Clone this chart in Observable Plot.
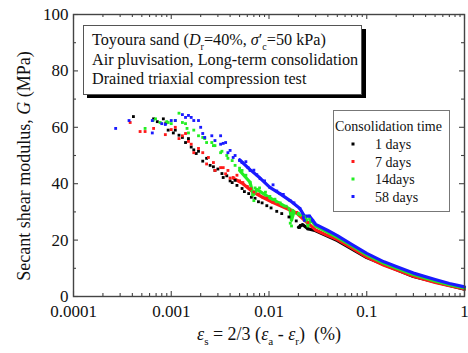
<!DOCTYPE html>
<html>
<head>
<meta charset="utf-8">
<script src="https://cdn.jsdelivr.net/npm/d3@7"></script>
<script src="https://cdn.jsdelivr.net/npm/@observablehq/plot@0.6"></script>
<style>
  html, body { margin: 0; padding: 0; background: #fff; }
  svg text { white-space: pre; }
</style>
</head>
<body>
<div id="chart"></div>
<script>
// ---------- data ----------
const seriesNames = ["1 days", "7 days", "14days", "58 days"];
const seriesColors = ["#000000", "#ff1a1a", "#22ee22", "#1a1aff"];

// scattered measurements [strain %, G MPa]
const day1Pts = [[0.00041,63.8],[0.00066,63],[0.00072,62],[0.00083,63],[0.00088,61.5],[0.00093,59],[0.00105,58],[0.0011,59],[0.0012,57.2],[0.0013,56.4],[0.0014,54.6],[0.0015,56],[0.0016,53],[0.0017,52],[0.0018,50.7],[0.0019,51.5],[0.0021,48],[0.0023,49],[0.0025,46.5],[0.0027,46],[0.0028,44.7],[0.003,45.2],[0.0033,43.6],[0.0034,42.2],[0.0037,42.8],[0.004,41],[0.0042,40.4],[0.0045,41.2],[0.0047,39.4],[0.0053,38.3],[0.0056,37.2],[0.0062,36.5],[0.0066,35.2],[0.0072,34.8],[0.0078,33.6],[0.0085,33.2],[0.0095,32.2],[0.0105,31.4],[0.012,30.2],[0.0135,29.4],[0.016,28.2],[0.019,26.8],[0.0205,24.5],[0.021,25.2],[0.025,24]];
const day7Pts = [[0.00038,61.7],[0.00048,58.5],[0.00054,58.5],[0.00066,59.6],[0.00087,57.4],[0.001,59.2],[0.0011,60],[0.0012,56],[0.0013,57],[0.0014,57.8],[0.0015,55],[0.0016,54],[0.0017,51],[0.0019,52.5],[0.0021,51],[0.0023,47],[0.0024,49.3],[0.0027,47.5],[0.0028,44.7],[0.0032,45.7],[0.0034,45.7],[0.0036,43.5],[0.0038,44.7],[0.004,42],[0.0043,42.2],[0.0047,43],[0.005,41],[0.0054,40.4],[0.006,39],[0.0065,38.2],[0.007,37],[0.0078,36.3],[0.0087,35.1],[0.0095,34.8],[0.011,33.3],[0.0125,32.6],[0.015,31.6],[0.017,30.6],[0.0193,29.8],[0.022,28],[0.025,26.2]];
const day14Pts = [[0.00054,59.6],[0.00065,62.4],[0.00069,63],[0.00077,61.7],[0.0009,62],[0.00093,61.7],[0.001,61.3],[0.0011,62.4],[0.0012,65],[0.0013,61.7],[0.0014,61.3],[0.00145,59.6],[0.0015,58],[0.0017,59],[0.0019,57],[0.0021,56.4],[0.0022,56],[0.0023,54.6],[0.0026,54.6],[0.0027,53.5],[0.0028,53.5],[0.0032,51],[0.0033,51.5],[0.0037,50],[0.0038,49],[0.0042,48.2],[0.0045,46.5],[0.005,45.5],[0.0053,44.7],[0.0058,43],[0.0064,40.5],[0.0068,36],[0.007,34],[0.0072,38.5],[0.008,38.5],[0.0092,37],[0.0102,35.5],[0.0115,34.5],[0.013,33.2],[0.015,32],[0.0165,26],[0.017,25],[0.0175,30.5],[0.02,29.5],[0.023,28.2],[0.025,25],[0.026,27.5]];
const day58Pts = [[0.00027,59.6],[0.00037,62.4],[0.00064,62.4],[0.00064,58],[0.0008,61.3],[0.00087,61],[0.001,62.4],[0.0011,62.4],[0.0013,64.5],[0.0014,63.5],[0.0015,64.2],[0.0016,63.5],[0.0017,62.4],[0.0019,62.4],[0.002,60],[0.0021,57.8],[0.0022,56.4],[0.0026,57],[0.0028,55.3],[0.0032,57],[0.0032,54],[0.0034,54.3],[0.0036,54.6],[0.0038,51],[0.004,51.8],[0.0043,49.3],[0.0045,50],[0.005,48.2],[0.0053,47.5],[0.0058,47.8],[0.0061,45.7],[0.0064,44.7],[0.007,44.8],[0.0075,43.2],[0.0081,41.8],[0.009,41],[0.0102,38.7],[0.011,39.6],[0.012,37.4],[0.0129,36.5],[0.014,36.2],[0.0164,34],[0.018,33.2],[0.0207,31.2],[0.0225,28],[0.023,27],[0.026,28.5],[0.028,27]];

// dense continuous part of each record [strain %, G MPa]
const day1Band = [[0.02,24.5],[0.022,25.5],[0.025,24],[0.03,23.3],[0.05,19.8],[0.1,13.8],[0.3,7.1],[1,2.6]];
const day7Band = [[0.0043,42],[0.0054,40],[0.0069,37],[0.0087,35.1],[0.011,33.3],[0.015,31.3],[0.0193,29.5],[0.024,26.5],[0.028,24.5],[0.03,23.6],[0.04,21.6],[0.05,20.2],[0.07,17.2],[0.1,14],[0.15,11.1],[0.2,9.5],[0.3,7.2],[0.5,5],[0.7,3.8],[1,2.7]];
const day14Band = [[0.005,44.7],[0.0064,40.5],[0.0069,36],[0.0075,38],[0.0102,35],[0.0129,33],[0.0164,31],[0.017,27],[0.018,30],[0.0207,29],[0.024,27.5],[0.025,25.5],[0.027,27],[0.03,25],[0.04,22.8],[0.05,21],[0.07,18],[0.1,14.8],[0.15,11.8],[0.2,10.1],[0.3,7.8],[0.5,5.5],[0.7,4.2],[1,3]];
const day58Band = [[0.005,48.5],[0.0064,45],[0.0081,42],[0.0102,38.7],[0.0129,36.5],[0.0164,34],[0.0207,31.2],[0.023,28.5],[0.026,28.5],[0.03,25.6],[0.04,23.4],[0.05,21.6],[0.07,18.5],[0.1,15.3],[0.15,12.3],[0.2,10.6],[0.3,8.3],[0.5,6],[0.7,4.6],[1,3.4]];

// axis ticks
const xMajor = [0.0001, 0.001, 0.01, 0.1, 1];
const xTickLabels = ["0.0001", "0.001", "0.01", "0.1", "1"];
const xMinor = [2e-4,3e-4,4e-4,5e-4,6e-4,7e-4,8e-4,9e-4, 2e-3,3e-3,4e-3,5e-3,6e-3,7e-3,8e-3,9e-3, 2e-2,3e-2,4e-2,5e-2,6e-2,7e-2,8e-2,9e-2, 0.2,0.3,0.4,0.5,0.6,0.7,0.8,0.9];
const yMajor = [0, 20, 40, 60, 80, 100];
const yMinor = [10, 30, 50, 70, 90];

// ---------- layout ----------
const W = 468, H = 353;
const mL = 73, mR = 4, mT = 14, mB = 57;
const frameW = W - mL - mR, frameH = H - mT - mB;
const majLen = 5, minLen = 3;
const axisColor = "#444";
const serif = "'Liberation Serif', 'Times New Roman', serif";

const pts = [day1Pts, day7Pts, day14Pts, day58Pts];
const bands = [day1Band, day7Band, day14Band, day58Band];

const bandMarks = bands.map((b, i) => Plot.line(b, {x: d => d[0], y: d => d[1], stroke: seriesColors[i], strokeWidth: 3.2, strokeLinejoin: "round"}));
const dotMarks = pts.map((p, i) => Plot.dot(p, {x: d => d[0], y: d => d[1], symbol: "square", r: 1.6, fill: seriesColors[i], stroke: "none"}));

const chart = Plot.plot({
  width: W, height: H,
  marginLeft: mL, marginRight: mR, marginTop: mT, marginBottom: mB,
  x: {type: "log", domain: [1e-4, 1]},
  y: {domain: [0, 100]},
  style: {fontFamily: serif, fontSize: "17px", background: "#fff", color: "#111"},
  marks: [
    ...bandMarks,
    ...dotMarks,
    // inward ticks, all four sides
    Plot.ruleX(xMajor, {x: d => d, insetTop: frameH - majLen, stroke: axisColor, strokeWidth: 1.1}),
    Plot.ruleX(xMinor, {x: d => d, insetTop: frameH - minLen, stroke: axisColor, strokeWidth: 1.1}),
    Plot.ruleX(xMajor, {x: d => d, insetBottom: frameH - majLen, stroke: axisColor, strokeWidth: 1.1}),
    Plot.ruleX(xMinor, {x: d => d, insetBottom: frameH - minLen, stroke: axisColor, strokeWidth: 1.1}),
    Plot.ruleY(yMajor, {y: d => d, insetRight: frameW - majLen, stroke: axisColor, strokeWidth: 1.1}),
    Plot.ruleY(yMinor, {y: d => d, insetRight: frameW - minLen, stroke: axisColor, strokeWidth: 1.1}),
    Plot.ruleY(yMajor, {y: d => d, insetLeft: frameW - majLen, stroke: axisColor, strokeWidth: 1.1}),
    Plot.ruleY(yMinor, {y: d => d, insetLeft: frameW - minLen, stroke: axisColor, strokeWidth: 1.1}),
    Plot.frame({stroke: axisColor, strokeWidth: 1.4}),
    Plot.axisX(xMajor, {tickSize: 0, tickPadding: 8, tickFormat: d => xTickLabels[xMajor.indexOf(d)], label: null, fill: "#111"}),
    Plot.axisY(yMajor, {tickSize: 0, tickPadding: 5, tickFormat: d => String(d), label: null, fill: "#111"})
  ]
});

document.getElementById("chart").appendChild(chart);

// ---------- annotations (text with sub/italics) ----------
const svg = d3.select(chart);

function addRich(parent, x, y, parts, size, anchor) {
  const t = parent.append("text").attr("x", x).attr("y", y)
    .attr("font-family", serif).attr("font-size", size).attr("fill", "#111")
    .attr("text-anchor", anchor || "start");
  let shift = 0;
  parts.forEach(p => {
    const ts = t.append("tspan").text(p.t);
    let target = 0;
    if (p.sub) { ts.attr("font-size", size * 0.62); target = size * 0.28; }
    if (target !== shift) { ts.attr("dy", target - shift); shift = target; }
    if (p.it) ts.attr("font-style", "italic");
  });
  return t;
}

// axis titles
const yl = svg.append("g").attr("transform", "translate(30,166) rotate(-90)");
addRich(yl, 0, 0, [{t: "Secant shear modulus, "}, {t: "G", it: true}, {t: " (MPa)"}], 18, "middle");
addRich(svg, 269, 340, [
  {t: "ε", it: true}, {t: "s", sub: true}, {t: " = 2/3 ("},
  {t: "ε", it: true}, {t: "a", sub: true}, {t: " - "},
  {t: "ε", it: true}, {t: "r", sub: true}, {t: ")  (%)"}
], 18, "middle");

// condition box with shadow
const box = svg.append("g");
box.append("rect").attr("x", 87).attr("y", 29).attr("width", 279).attr("height", 69).attr("fill", "#000");
box.append("rect").attr("x", 83.5).attr("y", 25.5).attr("width", 278).attr("height", 69).attr("fill", "#fff").attr("stroke", "#555").attr("stroke-width", 1);
addRich(box, 92, 45, [
  {t: "Toyoura sand ("}, {t: "D", it: true}, {t: "r", sub: true}, {t: "=40%, "},
  {t: "σ", it: true}, {t: "′"}, {t: "c", sub: true}, {t: "=50 kPa)"}
], 16.2);
addRich(box, 92, 65, [{t: "Air pluvisation, Long-term consolidation"}], 16.2);
addRich(box, 92, 84, [{t: "Drained triaxial compression test"}], 16.2);

// legend
const lg = svg.append("g");
lg.append("rect").attr("x", 333.5).attr("y", 110.5).attr("width", 116).attr("height", 101).attr("fill", "#fff").attr("stroke", "#777").attr("stroke-width", 1);
addRich(lg, 335, 131, [{t: "Consolidation time"}], 14);
seriesNames.forEach((name, i) => {
  const cy = 144 + i * 17.5;
  lg.append("rect").attr("x", 351.5).attr("y", cy - 1.5).attr("width", 3).attr("height", 3).attr("fill", seriesColors[i]);
  addRich(lg, 375, cy + 5, [{t: name}], 14);
});
</script>
</body>
</html>
